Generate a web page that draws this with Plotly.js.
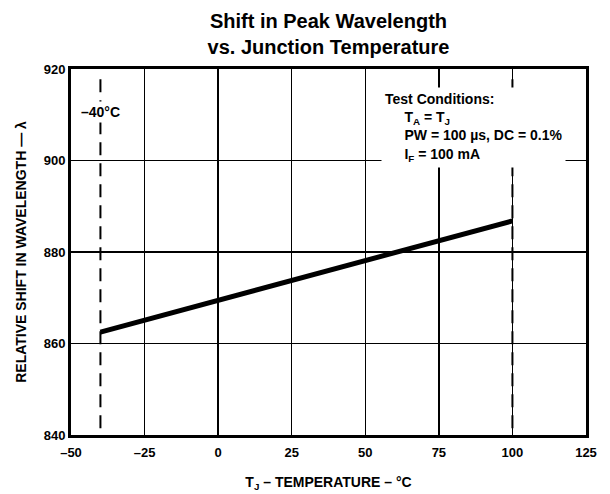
<!DOCTYPE html>
<html>
<head>
<meta charset="utf-8">
<script src="https://cdn.plot.ly/plotly-3.0.1.min.js"></script>
<style>html,body{margin:0;padding:0;background:#fff;}#chart{width:610px;height:494px;}</style>
</head>
<body>
<div id="chart"></div>
<script>
// Data
const temperature = [-40, 100];
const wavelength = [862.5, 886.8];
const markerTemps = [-40, 100];
const markerSpan = [841.5, 919.2];
const xTicks = [-50, -25, 0, 25, 50, 75, 100, 125];
const yTicks = [840, 860, 880, 900, 920];

const FONT = '"Liberation Sans Narrow", "Arial Narrow", "Liberation Sans", Arial, sans-serif';

const traces = [];
markerTemps.forEach(t => {
  traces.push({
    x: [t, t], y: markerSpan, mode: 'lines', type: 'scatter',
    line: {color: '#000', width: 2, dash: '13px,8px'},
    hoverinfo: 'skip', showlegend: false
  });
});
traces.push({
  x: temperature, y: wavelength, mode: 'lines', type: 'scatter',
  line: {color: '#000', width: 5},
  showlegend: false
});

const layout = {
  width: 610, height: 494,
  margin: {l: 71, r: 24, t: 69, b: 59},
  paper_bgcolor: '#fff', plot_bgcolor: '#fff',
  font: {family: FONT, color: '#000', size: 13, weight: 'bold'},
  title: {
    text: '<b>Shift in Peak Wavelength<br>vs. Junction Temperature</b>',
    font: {family: FONT, size: 20, color: '#000'},
    x: 0.5, xref: 'paper', xanchor: 'center',
    y: 0.943, yref: 'container', yanchor: 'middle'
  },
  xaxis: {
    range: [-50, 125], tickvals: xTicks, ticktext: xTicks.map(v => '<b>' + (v < 0 ? '–' + Math.abs(v) : v) + '</b>'),
    showgrid: true, gridcolor: '#000', gridwidth: 1.5,
    showline: true, linecolor: '#000', linewidth: 3, mirror: true,
    zeroline: false, ticks: '', tickfont: {family: FONT, size: 13}, ticklabelstandoff: 3,
    title: {text: '<b>T<sub>J</sub> – TEMPERATURE – °C</b>', font: {family: FONT, size: 14}, standoff: 19}
  },
  yaxis: {
    range: [840, 920], tickvals: yTicks, ticktext: yTicks.map(v => '<b>' + v + '</b>'),
    showgrid: true, gridcolor: '#000', gridwidth: 1.5,
    showline: true, linecolor: '#000', linewidth: 3, mirror: true,
    zeroline: false, ticks: '', tickfont: {family: FONT, size: 13},
    title: {text: '<b>RELATIVE SHIFT IN WAVELENGTH — λ</b>', font: {family: FONT, size: 14}, standoff: 14}
  },
  annotations: [
    {
      x: -40, y: 910.5, xref: 'x', yref: 'y', text: '<b>–40°C</b>',
      showarrow: false, bgcolor: '#fff', font: {family: FONT, size: 14}, borderpad: 2
    },
    {
      x: 55.5, y: 916, xref: 'x', yref: 'y', xanchor: 'left', yanchor: 'top', align: 'left',
      text: '<b>Test Conditions:<br>\u00a0\u00a0\u00a0\u00a0\u00a0T<sub>A</sub> = T<sub>J</sub><br>\u00a0\u00a0\u00a0\u00a0\u00a0PW = 100 µs, DC = 0.1%<br>\u00a0\u00a0\u00a0\u00a0\u00a0I<sub>F</sub> = 100 mA</b>',
      showarrow: false, bgcolor: '#fff', font: {family: FONT, size: 14}, borderpad: 3
    }
  ]
};

Plotly.newPlot('chart', traces, layout, {displayModeBar: false, staticPlot: true});
</script>
</body>
</html>
